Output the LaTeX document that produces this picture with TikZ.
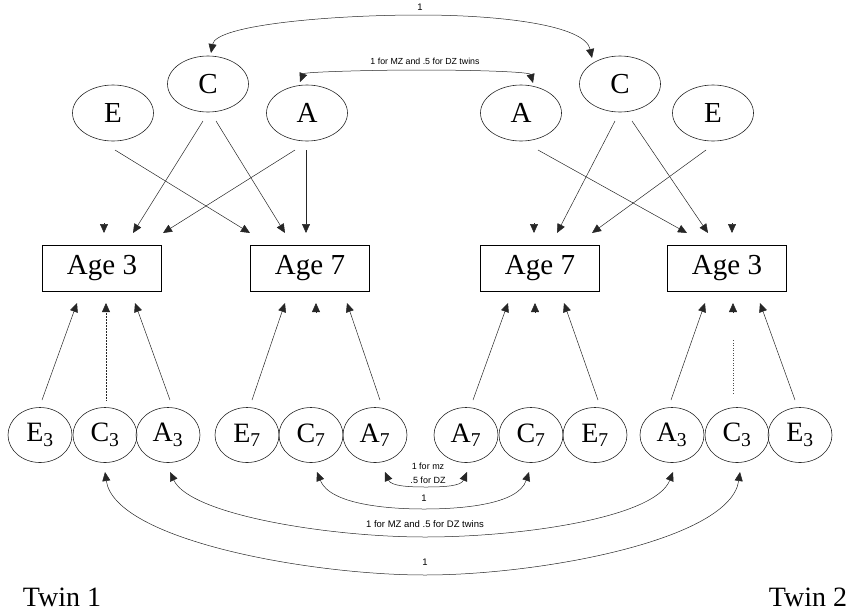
\documentclass[tikz,border=0pt]{standalone}
\usepackage{fontspec}
\setmainfont{Liberation Serif}
\newfontfamily\smallsans{Liberation Sans}
\usetikzlibrary{arrows.meta,shapes.geometric}
\begin{document}
\begin{tikzpicture}[x=1pt,y=-1pt,
  latent/.style={draw=black!85, line width=0.6pt, ellipse, inner sep=0pt,
    minimum width=81pt, minimum height=56pt, font=\fontsize{29}{29}\selectfont},
  sublatent/.style={draw=black!85, line width=0.6pt, ellipse, inner sep=0pt,
    minimum width=64pt, minimum height=55pt, font=\fontsize{28}{28}\selectfont},
  agebox/.style={draw=black, line width=0.7pt, rectangle, minimum width=119pt,
    minimum height=46pt, inner sep=0pt, font=\fontsize{29}{29}\selectfont},
  tip/.style={-{Triangle[length=9pt,width=8pt]}},
  arr/.style={tip, line width=0.5pt, draw=black!85},
  dbl/.style={{Triangle[length=9pt,width=8pt]}-{Triangle[length=9pt,width=8pt]},
    line width=0.5pt, draw=black!85},
  lbl/.style={font=\smallsans\fontsize{9.5}{10}\selectfont, inner sep=1pt},
  twin/.style={font=\fontsize{28}{28}\selectfont, inner sep=0pt}
]
\useasboundingbox (0,0) rectangle (855,614);

% ---- common factors (upper row)
\node[latent] (C1) at (208,84) {C};
\node[latent] (C2) at (620,84) {C};
\node[latent] (E1) at (113,113) {E};
\node[latent] (A1) at (307,113) {A};
\node[latent] (A2) at (521,113) {A};
\node[latent] (E2) at (713,113) {E};

% ---- measured variables
\node[agebox] (L3) at (102,268) {Age 3};
\node[agebox] (L7) at (310,268) {Age 7};
\node[agebox] (R7) at (540,268) {Age 7};
\node[agebox] (R3) at (727,268) {Age 3};

% ---- specific factors (lower row)
\node[sublatent] (e3L) at (40,435)  {E\textsubscript{3}};
\node[sublatent] (c3L) at (105,435) {C\textsubscript{3}};
\node[sublatent] (a3L) at (168,435) {A\textsubscript{3}};
\node[sublatent] (e7L) at (247,435) {E\textsubscript{7}};
\node[sublatent] (c7L) at (311,435) {C\textsubscript{7}};
\node[sublatent] (a7L) at (375,435) {A\textsubscript{7}};
\node[sublatent] (a7R) at (466,435) {A\textsubscript{7}};
\node[sublatent] (c7R) at (531,435) {C\textsubscript{7}};
\node[sublatent] (e7R) at (595,435) {E\textsubscript{7}};
\node[sublatent] (a3R) at (672,435) {A\textsubscript{3}};
\node[sublatent] (c3R) at (737,435) {C\textsubscript{3}};
\node[sublatent] (e3R) at (800,435) {E\textsubscript{3}};

% ---- paths from common factors into the boxes (twin 1)
\draw[arr] ([shift={(2,37)}]E1.center)  -- ([shift={(-60,-35)}]L7.center);
\draw[arr] ([shift={(-5,37)}]C1.center) -- ([shift={(31,-35)}]L3.center);
\draw[arr] ([shift={(8,37)}]C1.center)  -- ([shift={(-25,-35)}]L7.center);
\draw[arr] ([shift={(-12,37)}]A1.center) -- ([shift={(61,-35)}]L3.center);
\draw[arr] ([shift={(-1,37)}]A1.center) -- ([shift={(-4,-35)}]L7.center);
\draw[arr] ([shift={(2,-45)}]L3.center) -- ([shift={(2,-35)}]L3.center);

% ---- paths from common factors into the boxes (twin 2)
\draw[arr] ([shift={(17,37)}]A2.center) -- ([shift={(-40,-35)}]R3.center);
\draw[arr] ([shift={(-5,37)}]C2.center) -- ([shift={(17,-35)}]R7.center);
\draw[arr] ([shift={(12,37)}]C2.center) -- ([shift={(-19,-35)}]R3.center);
\draw[arr] ([shift={(-7,37)}]E2.center) -- ([shift={(52,-35)}]R7.center);
\draw[arr] ([shift={(-6,-45)}]R7.center) -- ([shift={(-6,-35)}]R7.center);
\draw[arr] ([shift={(5,-45)}]R3.center) -- ([shift={(5,-35)}]R3.center);

% ---- paths from specific factors into the boxes (twin 1)
\draw[arr] ([shift={(2,-35)}]e3L.center) -- ([shift={(-25,35)}]L3.center);
\draw[arr, densely dotted] ([shift={(1,-35)}]c3L.center) -- ([shift={(4,35)}]L3.center);
\draw[arr] ([shift={(2,-35)}]a3L.center) -- ([shift={(33,35)}]L3.center);
\draw[arr] ([shift={(5,-35)}]e7L.center) -- ([shift={(-25,35)}]L7.center);
\draw[arr] ([shift={(6,45)}]L7.center) -- ([shift={(6,35)}]L7.center);
\draw[arr] ([shift={(5,-35)}]a7L.center) -- ([shift={(37,35)}]L7.center);

% ---- paths from specific factors into the boxes (twin 2)
\draw[arr] ([shift={(7,-35)}]a7R.center) -- ([shift={(-32,35)}]R7.center);
\draw[arr] ([shift={(-5,45)}]R7.center) -- ([shift={(-5,35)}]R7.center);
\draw[arr] ([shift={(3,-35)}]e7R.center) -- ([shift={(24,35)}]R7.center);
\draw[arr] ([shift={(-1,-35)}]a3R.center) -- ([shift={(-22,35)}]R3.center);
\draw[line width=0.5pt, black!70, dotted] ([shift={(-4,-42)}]c3R.center) -- ([shift={(-4,-95)}]c3R.center);
\draw[arr] ([shift={(6,45)}]R3.center) -- ([shift={(6,35)}]R3.center);
\draw[arr] ([shift={(-5,-35)}]e3R.center) -- ([shift={(33,35)}]R3.center);

% ---- correlations between the twins' common factors
\coordinate (cTopL) at ([shift={(3,-31)}]C1.center);
\coordinate (cTopR) at ([shift={(-28,-26)}]C2.center);
\draw[dbl] (cTopL) .. controls (216,25) and (330,15) .. (420,15)
                   .. controls (500,15) and (585,25) .. (cTopR);
\node[lbl] (lOne) at (420,7) {1};

\coordinate (aTopL) at ([shift={(-7,-31)}]A1.center);
\coordinate (aTopR) at ([shift={(12,-30)}]A2.center);
\draw[dbl] (aTopL) .. controls (304,72) and (370,70) .. (420,70)
                   .. controls (480,70) and (530,72) .. (aTopR);
\node[lbl, font=\smallsans\fontsize{8.8}{9}\selectfont] (lA) at (425,61) {1 for MZ and .5 for DZ twins};

% ---- correlations between the twins' specific factors
\coordinate (a7a) at ([shift={(10,37)}]a7L.center);
\coordinate (a7b) at ([shift={(1,37)}]a7R.center);
\draw[dbl] (a7a) .. controls (391,486) and (408,487) .. (426,487)
                 .. controls (445,487) and (461,486) .. (a7b);
\node[lbl, font=\smallsans\fontsize{9}{9}\selectfont] (lmz) at (428,466) {1 for mz};
\node[lbl, font=\smallsans\fontsize{9}{9}\selectfont] (ldz) at (428,480) {.5 for DZ};

\coordinate (c7a) at ([shift={(6,37)}]c7L.center);
\coordinate (c7b) at ([shift={(-2,37)}]c7R.center);
\draw[dbl] (c7a) .. controls (330,505) and (390,509) .. (424,509)
                 .. controls (460,509) and (518,505) .. (c7b);
\node[lbl] (lc7) at (424,498) {1};

\coordinate (a3a) at ([shift={(2,37)}]a3L.center);
\coordinate (a3b) at ([shift={(1,37)}]a3R.center);
\draw[dbl] (a3a) .. controls (190,515) and (330,537) .. (425,537)
                 .. controls (520,537) and (655,518) .. (a3b);
\node[lbl] (la3) at (425,524) {1 for MZ and .5 for DZ twins};

\coordinate (c3a) at ([shift={(0,37)}]c3L.center);
\coordinate (c3b) at ([shift={(3,37)}]c3R.center);
\draw[dbl] (c3a) .. controls (115,540) and (310,575) .. (425,575)
                 .. controls (540,575) and (730,540) .. (c3b);
\node[lbl] (lc3) at (425,562) {1};

% ---- twin labels
\node[twin] (t1) at (62,597) {Twin 1};
\node[twin] (t2) at (808,597) {Twin 2};
\end{tikzpicture}
\end{document}
